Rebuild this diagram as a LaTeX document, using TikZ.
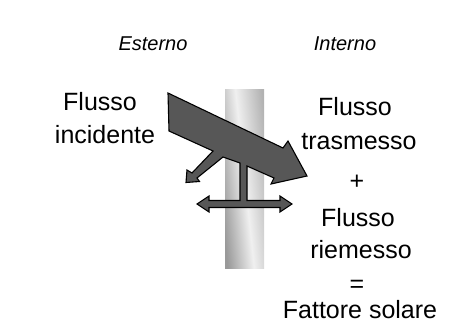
\documentclass[tikz,border=0pt]{standalone}
\usepackage{fontspec}
\setmainfont{Liberation Sans}
\usetikzlibrary{positioning}

\tikzset{
  flux/.style={fill=black!66, draw=black, line width=1.1pt, line join=miter},
  txt/.style={font=\fontsize{25}{30}\selectfont, anchor=base, inner sep=0pt},
  sidetxt/.style={font=\itshape\fontsize{20}{24}\selectfont, anchor=base, inner sep=0pt}
}

\begin{document}
\begin{tikzpicture}[x=1pt, y=-1pt]
\useasboundingbox (0,0) rectangle (467,335);

% glass pane
\shade [left color=black!40, right color=black!30, middle color=black!6,
        shading angle=96] (225,89) rectangle (264,268);

% incident flux, reflected part, re-emitted part
\filldraw [flux] (168,93) -- (283,148) -- (288,141) -- (307,176) -- (271,184)
  -- (274,178) -- (247,166) -- (247,200.5) -- (280,200.5) -- (280,196)
  -- (292,204) -- (280,212) -- (280,207.5) -- (209,207.5) -- (209,212)
  -- (197,204) -- (209,196) -- (209,200.5) -- (240,200.5) -- (240,163)
  -- (223,157) -- (197,178) -- (199.5,181.5) -- (186,182.5) -- (187,170)
  -- (192,173) -- (213,151) -- (169,131) -- cycle;

\node [sidetxt] (esterno) at (153,50) {Esterno};
\node [sidetxt] (interno) at (345,50) {Interno};

\node [txt] (flussoA) at (100,110.7) {Flusso};
\node [txt] (incidente) at (105,143) {incidente};

\node [txt] (flussoB) at (355,115) {Flusso};
\node [txt] (trasmesso) at (359,149) {trasmesso};
\node [txt, anchor=center] (piu) at (357,182) {+};
\node [txt] (flussoC) at (358,226.7) {Flusso};
\node [txt] (riemesso) at (361,258.3) {riemesso};
\node [txt, anchor=center] (uguale) at (357,286) {=};
\node [txt] (fattore) at (360,318.3) {Fattore solare};
\end{tikzpicture}
\end{document}
